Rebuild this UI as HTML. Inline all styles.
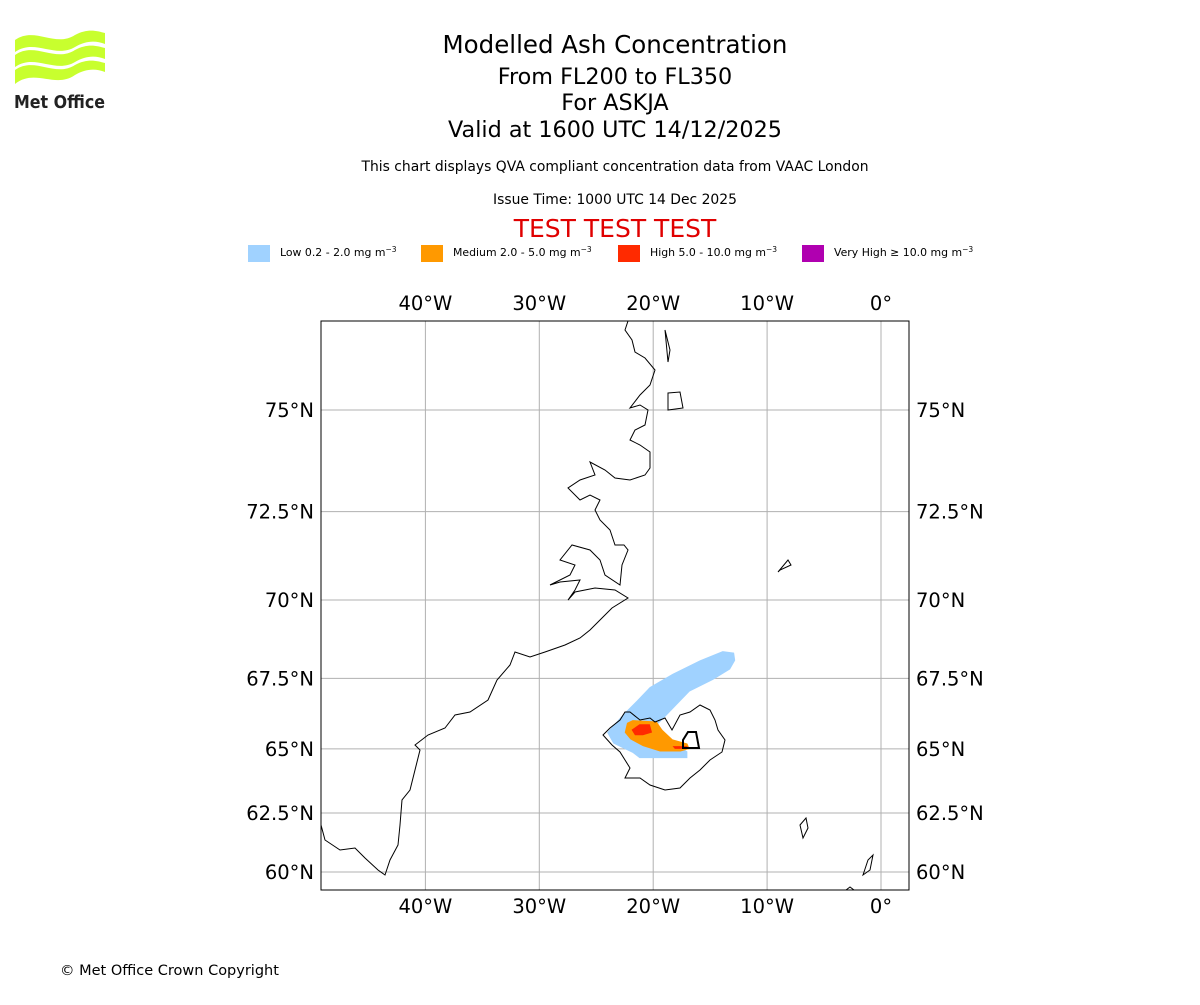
<!DOCTYPE html>
<html><head><meta charset="utf-8"><style>
body{margin:0;background:#fff;width:1200px;height:1000px;overflow:hidden;font-family:"Liberation Sans","DejaVu Sans",sans-serif}
svg text{font-family:"DejaVu Sans","Liberation Sans",sans-serif}
</style></head><body>
<svg id="chart" width="1200" height="1000">
<g>
<path d="M15,40 C35,26 55,48 75,35 C88,28 97,31 105,33 L105,44 C95,40 85,41 75,47 C55,59 35,38 15,52Z" fill="#c8ff2e"/>
<path d="M15,55 C35,41 55,63 75,50 C88,43 97,46 105,48 L105,59 C95,55 85,56 75,62 C55,74 35,53 15,67Z" fill="#c8ff2e"/>
<path d="M15,70 C35,56 55,78 75,65 C88,58 97,61 105,63 L105,72 C95,68 85,69 75,75 C55,89 35,68 15,84Z" fill="#c8ff2e"/>
<text x="14" y="108" font-size="18" font-weight="bold" fill="#222" textLength="91" lengthAdjust="spacingAndGlyphs">Met Office</text>
</g>
<text x="615" y="53" font-size="24.5" text-anchor="middle">Modelled Ash Concentration</text>
<text x="615" y="84" font-size="22.3" text-anchor="middle">From FL200 to FL350</text>
<text x="615" y="110" font-size="22.3" text-anchor="middle">For ASKJA</text>
<text x="615" y="137" font-size="22.3" text-anchor="middle">Valid at 1600 UTC 14/12/2025</text>
<text x="615" y="171" font-size="13.9" text-anchor="middle">This chart displays QVA compliant concentration data from VAAC London</text>
<text x="615" y="204" font-size="13.9" text-anchor="middle">Issue Time: 1000 UTC 14 Dec 2025</text>
<text x="615" y="237" font-size="25" text-anchor="middle" fill="#e00000">TEST TEST TEST</text>
<g font-size="10.9">
<rect x="248" y="245" width="22" height="17" fill="#a0d2ff"/>
<text x="280" y="256">Low 0.2 - 2.0 mg m<tspan dy="-4" font-size="7.5">−3</tspan></text>
<rect x="421" y="245" width="22" height="17" fill="#ff9900"/>
<text x="453" y="256">Medium 2.0 - 5.0 mg m<tspan dy="-4" font-size="7.5">−3</tspan></text>
<rect x="618" y="245" width="22" height="17" fill="#ff2a00"/>
<text x="650" y="256">High 5.0 - 10.0 mg m<tspan dy="-4" font-size="7.5">−3</tspan></text>
<rect x="802" y="245" width="22" height="17" fill="#b000b0"/>
<text x="834" y="256">Very High  ≥  10.0 mg m<tspan dy="-4" font-size="7.5">−3</tspan></text>
</g>
<defs><clipPath id="clip"><rect x="321" y="321" width="588" height="569"/></clipPath></defs>
<g id="grid"></g>
<g id="plume" clip-path="url(#clip)"></g>
<g clip-path="url(#clip)" fill="none" stroke="#000" stroke-width="1">
<path d="M321,825 L325,840 340,850 355,848 365,858 378,870 385,875 390,860 398,845 400,825 402,800 410,790 415,770 420,750 415,745 428,735 445,728 455,715 470,712 488,700 497,680 510,665 515,652 530,657 545,652 565,645 580,638 590,630 600,620 612,608 628,598 615,590 595,588 575,592 568,600 575,590 580,580 560,582 550,585 570,575 575,565 560,560 572,545 590,550 600,560 605,575 620,585 622,565 628,550 624,545 615,545 610,530 600,520 595,510 600,500 590,495 580,500 568,488 580,480 595,475 590,462 605,470 615,478 630,480 645,475 650,468 650,452 640,445 630,440 635,430 645,425 648,410 640,405 630,408 640,395 650,385 655,370 645,358 635,352 632,340 625,330 628,321"/>
<path d="M603,735 L610,728 620,720 625,712 630,712 640,720 650,718 655,722 665,718 672,730 680,715 690,712 700,705 710,710 715,720 718,730 725,740 722,752 710,760 700,770 690,778 680,788 665,790 650,785 640,778 625,778 630,768 625,760 620,752 612,745 603,735Z"/>
<path d="M665,330 L668,362 670,350 665,330Z"/>
<path d="M668,393 L680,392 683,408 668,410Z"/>
<path d="M778,572 L788,560 791,565 780,570Z"/>
<path d="M800,825 L806,818 808,828 803,838Z"/>
<path d="M863,875 L868,860 873,855 870,870Z"/>
<path d="M846,890 L850,887 854,890"/>
<path d="M683,740 L688,732 696,732 699,748 683,748Z" stroke-width="2"/>
</g>
<rect x="321" y="321" width="588" height="569" fill="none" stroke="#000" stroke-width="1"/>
<g id="labels" font-size="19.5"></g>
<text x="60" y="975" font-size="14.5">© Met Office Crown Copyright</text>
</svg>
<script>
const lonTicks=[-40,-30,-20,-10,0];
const latTicks=[60,62.5,65,67.5,70,72.5,75];
const lowLon=[-12.9,-13.9,-15.9,-18.3,-20.3,-21.4,-22.65,-24.05,-23.5,-21.8,-21.2,-17.0,-17.0,-18.5,-19.6,-19.1,-16.8,-14.75,-13.25,-12.8];
const lowLat=[68.35,68.4,68.1,67.65,67.2,66.75,66.25,65.6,65.2,64.85,64.65,64.65,64.9,65.35,65.9,66.1,67.05,67.45,67.8,68.1];
const medLon=[-22.3,-21.8,-19.7,-19.2,-18.3,-17.0,-16.8,-17.6,-19.4,-20.9,-22.0,-22.5];
const medLat=[65.95,66.05,66.0,65.7,65.35,65.2,65.0,64.9,64.9,65.1,65.35,65.6];
const high1Lon=[-21.9,-21.2,-20.3,-20.1,-20.9,-21.6];
const high1Lat=[65.7,65.9,65.9,65.6,65.5,65.5];
const high2Lon=[-18.3,-17.0,-17.0,-18.1];
const high2Lat=[65.1,65.1,65.0,65.0];
const NS="http://www.w3.org/2000/svg";
function merc(l){return Math.log(Math.tan(Math.PI/4+l*Math.PI/360));}
function xs(lon){return 881+lon*11.39;}
function ys(lat){return 410+(merc(75)-merc(lat))*650.2;}
const grid=document.getElementById('grid'),lab=document.getElementById('labels'),pl=document.getElementById('plume');
function mk(tag,attrs,parent){const e=document.createElementNS(NS,tag);for(const k in attrs)e.setAttribute(k,attrs[k]);parent.appendChild(e);return e;}
lonTicks.forEach(l=>{
 const g=mk('line',{x1:xs(l),x2:xs(l),y1:321,y2:890,stroke:'#b0b0b0','stroke-width':1},grid);
 
 
 const s=l<0?(-l)+'°W':'0°';
 [310,913].forEach(y=>{const t=mk('text',{x:xs(l),y:y,'text-anchor':'middle'},lab);t.textContent=s;
 
 });
});
latTicks.forEach(l=>{
 const y=ys(l);
 const g=mk('line',{x1:321,x2:909,y1:y,y2:y,stroke:'#b0b0b0','stroke-width':1},grid);
 
 
 const s=l+'°N';
 const t1=mk('text',{x:314,y:y+7,'text-anchor':'end'},lab);t1.textContent=s;
 
 
 const t2=mk('text',{x:916,y:y+7},lab);t2.textContent=s;
 
 
});
function poly(lons,lats,fill,name){
 const p=mk('polygon',{points:lons.map((l,i)=>xs(l)+','+ys(lats[i])).join(' '),fill:fill},pl);
 
 
}
poly(lowLon,lowLat,'#a0d2ff','plume-low');
poly(medLon,medLat,'#ff9900','plume-medium');
poly(high1Lon,high1Lat,'#ff2a00','plume-high-west');
poly(high2Lon,high2Lat,'#ff2a00','plume-high-east');
</script>
</body></html>
